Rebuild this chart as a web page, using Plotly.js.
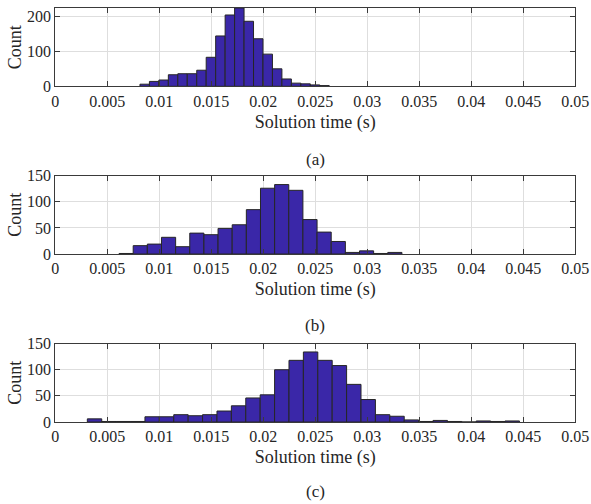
<!DOCTYPE html>
<html>
<head>
<meta charset="utf-8">
<script src="https://cdn.plot.ly/plotly-3.0.1.min.js"></script>
<style>html,body{margin:0;padding:0;background:#fff;}#chart{width:591px;height:504px;}</style>
</head>
<body>
<div id="chart"></div>
<script>
// ---- data ----
const binStartA = 0.00814, binWidthA = 0.00091;
const countsA = [6, 14, 18, 33, 36, 36, 46, 83, 144, 204, 224, 186, 136, 92, 50, 21, 9, 7, 4, 2];

const binStartB = 0.00613, binWidthB = 0.00136;
const countsB = [1, 16, 19, 32, 14, 40, 37, 49, 56, 85, 126, 133, 122, 66, 42, 24, 3, 6, 1, 3];

const binStartC = 0.00308, binWidthC = 0.001385;
const countsC = [6, 1, 1, 1, 10, 10, 14, 12, 14, 21, 31, 46, 52, 100, 118, 134, 118, 108, 72, 43, 14, 11, 4, 1, 3, 1, 0, 2, 1, 2];

const xTickVals = [0, 0.005, 0.01, 0.015, 0.02, 0.025, 0.03, 0.035, 0.04, 0.045, 0.05];
const xTickText = ["0", "0.005", "0.01", "0.015", "0.02", "0.025", "0.03", "0.035", "0.04", "0.045", "0.05"];
const yTickValsA = [0, 100, 200];
const yTickValsBC = [0, 50, 100, 150];
const panelLabels = ["(a)", "(b)", "(c)"];
const xTitle = "Solution time (s)";
const yTitle = "Count";

// ---- build ----
function centers(start, w, n) { const c = []; for (let i = 0; i < n; i++) c.push(start + w * (i + 0.5)); return c; }

const barColor = "#3a27a8";
const edgeColor = "#262626";
function barTrace(start, w, counts, ax) {
  return {
    type: "bar",
    x: centers(start, w, counts.length),
    y: counts,
    width: counts.map(() => w),
    xaxis: "x" + (ax === 1 ? "" : ax),
    yaxis: "y" + (ax === 1 ? "" : ax),
    marker: { color: barColor, line: { color: edgeColor, width: 1 } },
    hoverinfo: "x+y",
    showlegend: false
  };
}

const font = { family: "Liberation Serif, Times New Roman, serif", size: 16, color: "#262626" };
const axisColor = "#3a3a3a";
const gridColor = "#dedede";
function xAxis(domainY, anchor) {
  return {
    domain: [55.3 / 591, 575.3 / 591],
    anchor: anchor,
    range: [0, 0.05],
    tickvals: xTickVals, ticktext: xTickText,
    ticks: "inside", ticklen: 5, tickcolor: axisColor, tickwidth: 1,
    showline: true, linecolor: axisColor, linewidth: 1, mirror: "ticks",
    showgrid: true, gridcolor: gridColor, gridwidth: 1,
    zeroline: false,
    tickfont: { family: font.family, size: 16, color: "#262626" },
    title: { text: xTitle, font: { family: font.family, size: 18, color: "#262626" }, standoff: 6 },
    fixedrange: true
  };
}
function yAxis(domain, anchor, range, tv) {
  return {
    domain: domain,
    anchor: anchor,
    range: range,
    tickvals: tv,
    ticks: "inside", ticklen: 5, tickcolor: axisColor, tickwidth: 1,
    showline: true, linecolor: axisColor, linewidth: 1, mirror: "ticks",
    showgrid: true, gridcolor: gridColor, gridwidth: 1,
    zeroline: false,
    tickfont: { family: font.family, size: 16, color: "#262626" },
    title: { text: yTitle, font: { family: font.family, size: 18, color: "#262626" }, standoff: 0 },
    fixedrange: true
  };
}

const H = 504;
const domA = [1 - 86.3 / H, 1 - 8 / H];
const domB = [1 - 254 / H, 1 - 175.7 / H];
const domC = [1 - 422 / H, 1 - 343.6 / H];

const data = [
  barTrace(binStartA, binWidthA, countsA, 1),
  barTrace(binStartB, binWidthB, countsB, 2),
  barTrace(binStartC, binWidthC, countsC, 3)
];

const labelY = [159, 325, 491];
const layout = {
  width: 591, height: 504,
  margin: { l: 0, r: 0, t: 0, b: 0 },
  paper_bgcolor: "#fff", plot_bgcolor: "#fff",
  font: font,
  barmode: "overlay",
  xaxis: xAxis(domA, "y"),
  yaxis: yAxis(domA, "x", [0, 224], yTickValsA),
  xaxis2: xAxis(domB, "y2"),
  yaxis2: yAxis(domB, "x2", [0, 150], yTickValsBC),
  xaxis3: xAxis(domC, "y3"),
  yaxis3: yAxis(domC, "x3", [0, 150], yTickValsBC),
  annotations: panelLabels.map((t, i) => ({
    text: t, xref: "paper", yref: "paper",
    x: (55.3 + 575.3) / 2 / 591, y: 1 - labelY[i] / H,
    xanchor: "center", yanchor: "middle", showarrow: false,
    font: { family: font.family, size: 17, color: "#262626" }
  }))
};

Plotly.newPlot("chart", data, layout, { displayModeBar: false, staticPlot: true });
</script>
</body>
</html>
